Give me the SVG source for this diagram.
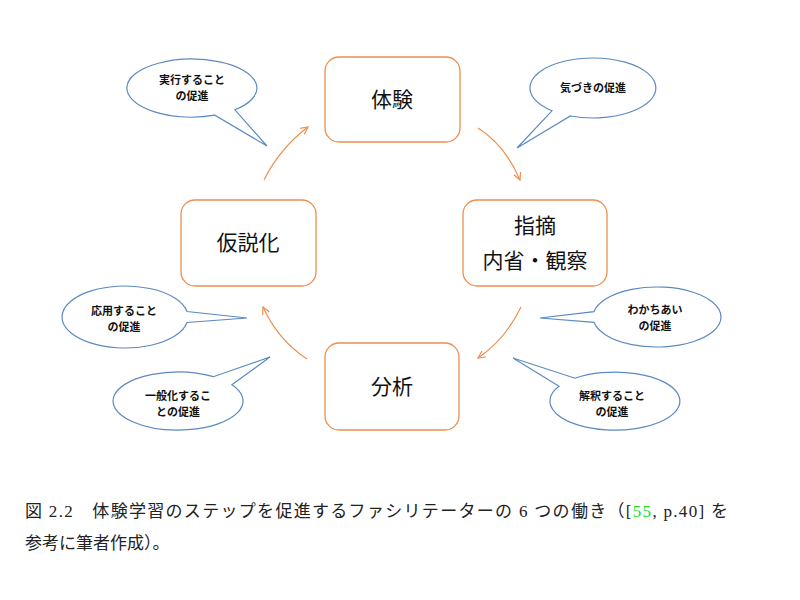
<svg xmlns="http://www.w3.org/2000/svg" width="800" height="600" viewBox="0 0 800 600">
<style>
.node rect{fill:#fff;stroke:#ED8F4E;stroke-width:1.3}
.node text{font-family:"Noto Sans CJK JP",sans-serif;font-size:21px;fill:#111;text-anchor:middle}
.call path{fill:#fff;stroke:#5B8AC2;stroke-width:1.2}
.call text{font-family:"Noto Sans CJK JP",sans-serif;font-size:11px;font-weight:bold;fill:#111;text-anchor:middle}
.conn path{fill:none;stroke:#ED8F4E;stroke-width:1.2}
.cap{font-family:"Liberation Serif","Noto Sans CJK JP",serif;font-size:17px;fill:#222}
</style>
<defs>
<marker id="ah" viewBox="0 0 10 10" refX="9" refY="5" markerWidth="9" markerHeight="9" markerUnits="userSpaceOnUse" orient="auto">
<path d="M1,1 L9,5 L1,9" fill="none" stroke="#ED8F4E" stroke-width="1.3"/>
</marker>
</defs>
<rect width="800" height="600" fill="#fff"/>
<g id="connectors" class="conn">
<path d="M264,180 Q280,148 308,127" marker-end="url(#ah)"/>
<path d="M478,128 Q505,145 520,180" marker-end="url(#ah)"/>
<path d="M521,307 Q505,340 478,358" marker-end="url(#ah)"/>
<path d="M307,359 Q278,340 263,307" marker-end="url(#ah)"/>
</g>
<g id="node-taiken" class="node"><rect x="325" y="57" width="135" height="85" rx="14"/><text x="392" y="107">体験</text></g>
<g id="node-shiteki" class="node"><rect x="463" y="200" width="144" height="86" rx="14"/><text x="535" y="233">指摘</text><text x="535" y="268">内省・観察</text></g>
<g id="node-bunseki" class="node"><rect x="325" y="343" width="134" height="87" rx="14"/><text x="392" y="394">分析</text></g>
<g id="node-kasetsu" class="node"><rect x="181" y="200" width="135" height="86" rx="14"/><text x="248" y="250">仮説化</text></g>
<g id="callout-jikko" class="call"><path d="M234.9,109.8 A65,29 0 1 0 214.8,115.2 L267,146 Z"/><text x="192" y="84">実行すること</text><text x="192" y="100">の促進</text></g>
<g id="callout-kizuki" class="call"><path d="M570.4,116 A63,30 0 1 0 552,110.8 L517,148 Z"/><text x="593" y="92">気づきの促進</text></g>
<g id="callout-oyo" class="call"><path d="M187,311.5 A63,31 0 1 0 187,322.5 L247,318 Z"/><text x="124" y="315">応用すること</text><text x="124" y="331">の促進</text></g>
<g id="callout-ippanka" class="call"><path d="M213.4,376.7 A65,29 0 1 0 231.9,384.8 L270,357 Z"/><text x="178" y="400">一般化するこ</text><text x="178" y="416">との促進</text></g>
<g id="callout-wakachiai" class="call"><path d="M594,311.7 A64,30 0 1 1 594,322.3 L540,318 Z"/><text x="655" y="314">わかちあい</text><text x="655" y="330">の促進</text></g>
<g id="callout-kaishaku" class="call"><path d="M575,378.2 A65,29 0 1 1 559,386.3 L513,358 Z"/><text x="612" y="400">解釈すること</text><text x="612" y="416">の促進</text></g>
<text class="cap" x="25" y="517" textLength="703" lengthAdjust="spacing">図 2.2　体験学習のステップを促進するファシリテーターの 6 つの働き（[<tspan fill="#22DD22">55</tspan>, p.40] を</text>
<text class="cap" x="25" y="549">参考に筆者作成）。</text>
</svg>
